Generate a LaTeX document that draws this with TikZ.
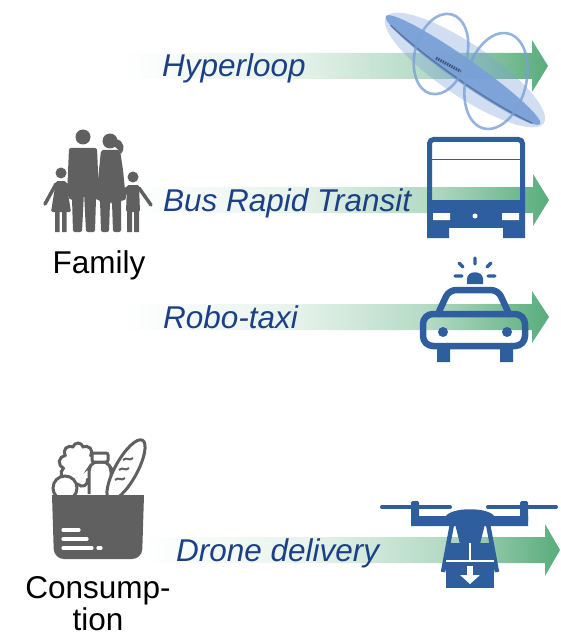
\documentclass[tikz,border=0pt]{standalone}
\usepackage{fontspec}
\setmainfont{Liberation Sans}
\usetikzlibrary{shapes.symbols}

\definecolor{arrowgreen}{RGB}{88,172,124}
\definecolor{modeblue}{RGB}{27,64,134}
\definecolor{iconblue}{RGB}{47,94,158}
\definecolor{famgray}{RGB}{96,96,96}
\definecolor{hlblue}{RGB}{122,160,215}
\definecolor{hldark}{RGB}{62,84,125}

% white-to-green fade used for every transport arrow
% (TikZ maps the path's extent onto 25bp..75bp of the shading)
\pgfdeclarehorizontalshading{arrowfade}{100bp}{color(0bp)=(white); color(25bp)=(white);
  color(45bp)=(arrowgreen!14); color(61bp)=(arrowgreen!45); color(75bp)=(arrowgreen);
  color(100bp)=(arrowgreen)}

% #1 start x, #2 x of the head base, #3 tip x, #4 centre y
\newcommand\flowarrow[4]{%
  \shade[fade arrow] (#1,#4-13) -- (#2,#4-13) -- (#2,#4-26) -- (#3,#4)
    -- (#2,#4+26) -- (#2,#4+13) -- (#1,#4+13) -- cycle;}

\tikzset{
  fade arrow/.style={shading=arrowfade},
  mode label/.style={font=\fontsize{31.5}{33}\selectfont\itshape, text=modeblue,
    inner sep=0pt, anchor=base west},
  group label/.style={font=\fontsize{31.5}{32}\selectfont, text=black,
    inner sep=0pt, align=center, anchor=base},
  ray/.style={draw=iconblue, line width=3.4, line cap=round},
  bag item/.style={draw=famgray, fill=white, line width=3},
}

\begin{document}
\begin{tikzpicture}[x=1pt, y=-1pt]
\useasboundingbox (0,0) rectangle (560,639);

% ---------------- arrows ----------------
\flowarrow{120}{532}{548}{66}
\flowarrow{125}{533}{549}{200}
\flowarrow{120}{532}{549}{317}
\flowarrow{140}{545}{560}{550}

% ---------------- transport labels ----------------
\node[mode label] (hyperloop) at (162,77) {Hyperloop};
\node[mode label] (brt) at (163,211) {Bus Rapid Transit};
\node[mode label] (robotaxi) at (163,328) {Robo-taxi};
\node[mode label] (drone) at (176,561) {Drone delivery};

% ---------------- family ----------------
\begin{scope}[famgray]
  % father
  \fill (83,137) circle (7.5);
  \fill[rounded corners=2] (69,148) -- (97,148) -- (99,196) -- (96,198) -- (95,232)
    -- (86,232) -- (84,192) -- (82,232) -- (73,232) -- (72,198) -- (67,196) -- cycle;
  % mother
  \fill (110,141) circle (7.5);
  \fill (116,139) .. controls (125,141) and (125,150) .. (121,154)
    .. controls (119,150) and (116,147) .. (113,146) -- cycle;
  \fill[rounded corners=2] (101,150) -- (120,150) -- (123,170) -- (126,200) -- (121,200)
    -- (121,232) -- (113,232) -- (112,202) -- (110,202) -- (109,232) -- (101,232)
    -- (100,200) -- (96,200) -- (99,170) -- cycle;
  % daughter
  \fill (61,173) circle (5.5);
  \fill[rounded corners=1.5] (56,181) -- (66,181) -- (71,212) -- (51,212) -- cycle;
  \draw[line width=3.5, line cap=round] (56,184) -- (45,204) (66,184) -- (71,198);
  \fill (55,210) rectangle (59.5,232) (62,210) rectangle (66.5,232);
  % son
  \fill (133,177) circle (5.5);
  \fill[rounded corners=1.5] (127,185) -- (139,185) -- (140,212) -- (126,212) -- cycle;
  \draw[line width=3.5, line cap=round] (139,188) -- (151,205) (127,188) -- (123,199);
  \fill (127,210) rectangle (132,232) (134,210) rectangle (139,232);
\end{scope}
\node[group label] (family) at (99,273) {Family};

% ---------------- shopping bag ----------------
\node[cloud, cloud puffs=9, bag item, minimum width=38pt, minimum height=44pt,
  inner sep=0pt] (lettuce) at (78,465) {};
\draw[bag item] (65,488) circle (12);
\draw[bag item, rounded corners=4] (89,494) -- (89,468) -- (93,462) -- (107,462)
  -- (111,468) -- (111,494);
\draw[bag item, rounded corners=2] (92,453) rectangle (108,462);
\draw[bag item, rotate around={61:(126,470)}] (126,470) ellipse (34 and 11);
\draw[famgray, line width=2] (123,460) .. controls (127,456) and (129,462) .. (133,458)
  (119,470) .. controls (123,466) and (125,472) .. (129,468)
  (115,480) .. controls (119,476) and (121,482) .. (125,478);
\fill[famgray] (52,495) -- (144,495) [rounded corners=10] -- (142,559) -- (54,559)
  [sharp corners] -- cycle;
\draw[white, line width=3.2, line cap=round] (63,530) -- (79,530) (63,539) -- (87,539)
  (63,548) -- (92,548) (98,548) -- (101,548);
\node[group label] (consumption) at (98,630) {Consump-\\tion};

% ---------------- hyperloop ----------------
\fill[hlblue, opacity=0.35, rotate around={-34:(465,70)}] (465,70) ellipse (95 and 26);
\fill[hlblue, opacity=0.95, rotate around={-35:(463,70)}] (463,70) ellipse (94 and 12);
\draw[hldark, line width=1.5, opacity=0.55, rotate around={-35:(463,70)}]
  (378,75) .. controls (430,82) and (500,82) .. (550,74);
\draw[hldark, line width=3, dash pattern=on 1.5pt off 1pt] (436,58) -- (462,72);
\draw[hlblue, line width=2.6, opacity=0.8, rotate around={-15:(441,54)}] (441,54) ellipse (26 and 41);
\draw[hlblue, line width=2.6, opacity=0.8, rotate around={-15:(496,81)}] (496,81) ellipse (30 and 49);

% ---------------- bus ----------------
\fill[white] (432,142) rectangle (520,158);
\draw[iconblue, line width=5, rounded corners=4] (429.5,228) -- (429.5,139.5) -- (522.5,139.5) -- (522.5,228);
\draw[iconblue, line width=1.3] (432,159.5) -- (520,159.5);
\fill[iconblue] (427,200) rectangle (525,228);
\fill[iconblue] (427,227) rectangle (449,238) (503,227) rectangle (525,238);
\fill[white] (433,213) rectangle (450,220) (502,213) rectangle (519,220);
\fill[white] (475,216) circle (2.5);

% ---------------- robo-taxi ----------------
\draw[ray] (475,258) -- (475,264) (459,263) -- (463,267) (491,263) -- (487,267)
  (455,276) -- (462,276) (488,276) -- (495,276);
\fill[iconblue] (467,284) -- (467,279) .. controls (467,270) and (483,270) .. (483,279)
  -- (483,284) -- cycle;
\draw[iconblue, line width=6.5, rounded corners=7] (437,316) -- (449,290) -- (498,290) -- (510,316);
\draw[iconblue, line width=6.5, rounded corners=10] (423,314) rectangle (525,346);
\fill[iconblue] (443,332) circle (5) (507,332) circle (5);
\fill[iconblue] (437,347) rectangle (450,362) (500,347) rectangle (513,362);

% ---------------- drone ----------------
\draw[iconblue, line width=4, line cap=round] (382,507) -- (450,507) (488,507) -- (556,507);
\fill[iconblue, rounded corners=1.5] (411,501) rectangle (419,523) (520,501) rectangle (528,523);
\fill[iconblue] (411,516) -- (446,516) .. controls (452,507) and (488,507) .. (494,516)
  -- (528,516) -- (528,526) -- (411,526) -- cycle;
\draw[iconblue, line width=4.5] (452,524) -- (443,572) (488,524) -- (497,572);
\fill[iconblue] (455,524) -- (485,524) -- (480,544) -- (460,544) -- cycle;
\fill[iconblue] (446,543) rectangle (494,588);
\draw[white, line width=1.5] (446,561) -- (494,561) (470,543) -- (470,561);
\fill[white] (467,566) rectangle (473,576);
\fill[white] (460,575) -- (480,575) -- (470,584) -- cycle;

\end{tikzpicture}
\end{document}
